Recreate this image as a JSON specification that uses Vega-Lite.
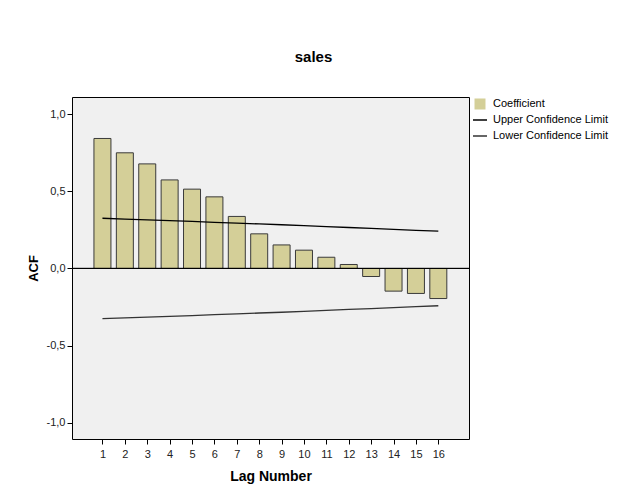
{
  "$schema": "https://vega.github.io/schema/vega-lite/v6.json",
  "width": 397,
  "height": 342,
  "autosize": {"type": "none"},
  "padding": {"left": 72, "top": 97, "right": 158, "bottom": 63},
  "background": "#ffffff",
  "title": {
    "text": "sales",
    "font": "Liberation Sans",
    "fontSize": 15,
    "fontWeight": "bold",
    "color": "#000000",
    "anchor": "middle",
    "dx": 43,
    "baseline": "alphabetic",
    "offset": 19
  },
  "config": {
    "view": {"fill": "#f0f0f0", "stroke": "#000000", "strokeWidth": 1},
    "axis": {
      "labelFont": "Liberation Sans",
      "labelFontSize": 11,
      "labelColor": "#222222",
      "titleFont": "Liberation Sans",
      "titleFontWeight": "bold",
      "titleColor": "#000000",
      "tickColor": "#000000",
      "tickSize": 5,
      "grid": false,
      "domain": false,
      "labelOverlap": false
    },
    "legend": {
      "labelFont": "Liberation Sans",
      "labelFontSize": 11,
      "labelColor": "#000000",
      "title": null,
      "orient": "none",
      "legendX": 400,
      "legendY": -1,
      "padding": 0,
      "rowPadding": 0,
      "gridAlign": "all",
      "labelOffset": 5
    }
  },
  "data": {
    "values": [
      {"lag": 1, "acf": 0.844, "upper": 0.326, "lower": -0.326},
      {"lag": 2, "acf": 0.751, "upper": 0.321, "lower": -0.321},
      {"lag": 3, "acf": 0.679, "upper": 0.316, "lower": -0.316},
      {"lag": 4, "acf": 0.575, "upper": 0.311, "lower": -0.311},
      {"lag": 5, "acf": 0.515, "upper": 0.306, "lower": -0.306},
      {"lag": 6, "acf": 0.465, "upper": 0.3, "lower": -0.3},
      {"lag": 7, "acf": 0.338, "upper": 0.295, "lower": -0.295},
      {"lag": 8, "acf": 0.225, "upper": 0.289, "lower": -0.289},
      {"lag": 9, "acf": 0.153, "upper": 0.284, "lower": -0.284},
      {"lag": 10, "acf": 0.119, "upper": 0.278, "lower": -0.278},
      {"lag": 11, "acf": 0.073, "upper": 0.272, "lower": -0.272},
      {"lag": 12, "acf": 0.026, "upper": 0.266, "lower": -0.266},
      {"lag": 13, "acf": -0.052, "upper": 0.26, "lower": -0.26},
      {"lag": 14, "acf": -0.147, "upper": 0.254, "lower": -0.254},
      {"lag": 15, "acf": -0.162, "upper": 0.248, "lower": -0.248},
      {"lag": 16, "acf": -0.195, "upper": 0.242, "lower": -0.242}
    ]
  },
  "layer": [
    {
      "mark": {"type": "bar", "size": 17, "stroke": "#3a3a3a", "strokeWidth": 1, "opacity": 1},
      "encoding": {
        "x": {
          "field": "lag",
          "type": "quantitative",
          "scale": {"domain": [-0.36, 17.37], "nice": false, "zero": false, "padding": 0},
          "axis": {
            "values": [1, 2, 3, 4, 5, 6, 7, 8, 9, 10, 11, 12, 13, 14, 15, 16],
            "format": "d",
            "title": "Lag Number",
            "titleFontSize": 14,
            "titlePadding": 10,
            "labelPadding": 4,
            "labelFlush": false,
            "labelOverlap": false,
            "labelBound": false
          }
        },
        "y": {
          "field": "acf",
          "type": "quantitative",
          "scale": {"domain": [-1.1068, 1.1132], "nice": false, "padding": 0},
          "axis": {
            "values": [-1, -0.5, 0, 0.5, 1],
            "labelExpr": "replace(replace(format(datum.value, '.1f'), '.', ','), '\u2212', '-')",
            "title": "ACF",
            "titleFontSize": 13,
            "titlePadding": 6,
            "labelPadding": 2
          }
        },
        "color": {
          "datum": "Coefficient",
          "type": "nominal",
          "scale": {
            "domain": ["Coefficient", "Upper Confidence Limit", "Lower Confidence Limit"],
            "range": ["#d4cf98", "#000000", "#333333"]
          },
          "legend": {
            "symbolType": {"expr": "datum.value === 'Coefficient' ? 'square' : 'stroke'"},
            "symbolSize": {"expr": "datum.value === 'Coefficient' ? 90 : 196"},
            "symbolStrokeWidth": 1.5
          }
        }
      }
    },
    {
      "mark": {"type": "rule", "color": "#000000", "strokeWidth": 1},
      "encoding": {"y": {"datum": 0}}
    },
    {
      "mark": {"type": "line", "strokeWidth": 1.3},
      "encoding": {
        "x": {
          "field": "lag",
          "type": "quantitative",
          "scale": {"domain": [-0.36, 17.37], "nice": false, "zero": false, "padding": 0},
          "axis": {
            "values": [1, 2, 3, 4, 5, 6, 7, 8, 9, 10, 11, 12, 13, 14, 15, 16],
            "format": "d",
            "title": "Lag Number",
            "titleFontSize": 14,
            "titlePadding": 10,
            "labelPadding": 4,
            "labelFlush": false,
            "labelOverlap": false,
            "labelBound": false
          }
        },
        "y": {"field": "upper", "type": "quantitative"},
        "color": {
          "datum": "Upper Confidence Limit",
          "type": "nominal",
          "legend": {
            "symbolType": {"expr": "datum.value === 'Coefficient' ? 'square' : 'stroke'"},
            "symbolSize": {"expr": "datum.value === 'Coefficient' ? 90 : 196"},
            "symbolStrokeWidth": 1.5
          }
        }
      }
    },
    {
      "mark": {"type": "line", "strokeWidth": 1.3},
      "encoding": {
        "x": {
          "field": "lag",
          "type": "quantitative",
          "scale": {"domain": [-0.36, 17.37], "nice": false, "zero": false, "padding": 0},
          "axis": {
            "values": [1, 2, 3, 4, 5, 6, 7, 8, 9, 10, 11, 12, 13, 14, 15, 16],
            "format": "d",
            "title": "Lag Number",
            "titleFontSize": 14,
            "titlePadding": 10,
            "labelPadding": 4,
            "labelFlush": false,
            "labelOverlap": false,
            "labelBound": false
          }
        },
        "y": {"field": "lower", "type": "quantitative"},
        "color": {
          "datum": "Lower Confidence Limit",
          "type": "nominal",
          "legend": {
            "symbolType": {"expr": "datum.value === 'Coefficient' ? 'square' : 'stroke'"},
            "symbolSize": {"expr": "datum.value === 'Coefficient' ? 90 : 196"},
            "symbolStrokeWidth": 1.5
          }
        }
      }
    }
  ]
}
